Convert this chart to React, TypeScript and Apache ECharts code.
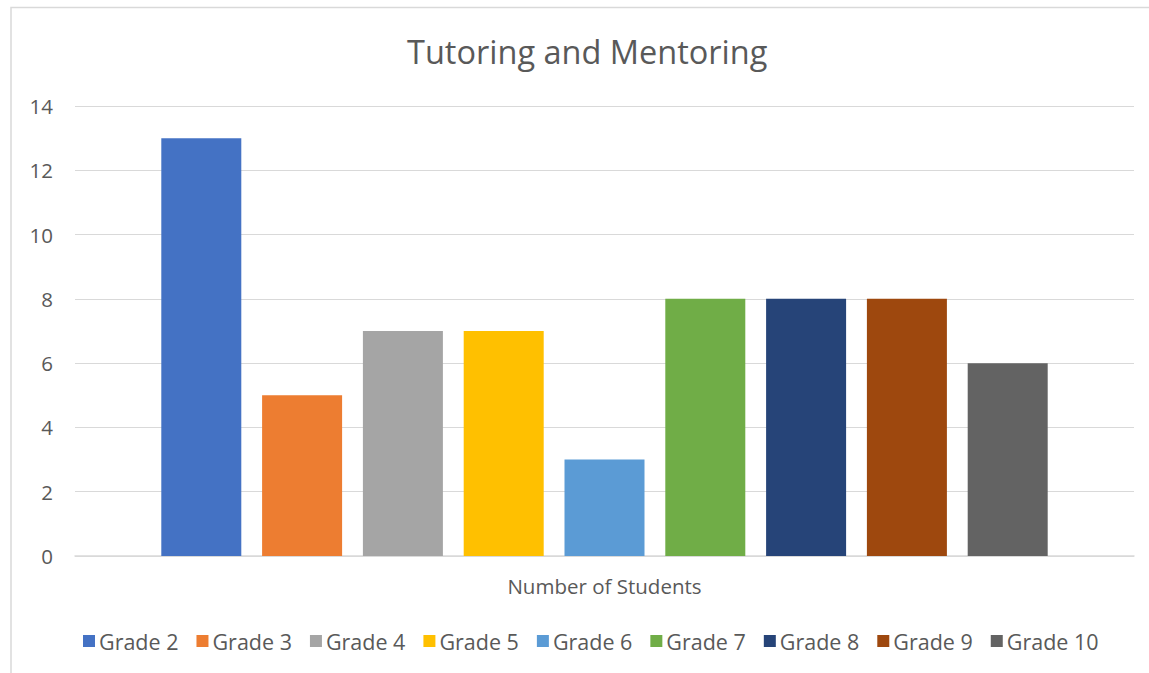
import React, { useEffect, useRef } from "react";
import * as echarts from "echarts";

const titleText = "Tutoring and Mentoring";
const categories = ["Number of Students"];
const seriesNames = ["Grade 2", "Grade 3", "Grade 4", "Grade 5", "Grade 6", "Grade 7", "Grade 8", "Grade 9", "Grade 10"];
const seriesValues = [13, 5, 7, 7, 3, 8, 8, 8, 6];
const seriesColors = ["#4472C4", "#ED7D31", "#A5A5A5", "#FFC000", "#5B9BD5", "#70AD47", "#264478", "#9E480E", "#636363"];

const FONT = "'Open Sans', sans-serif";
const TEXT = "#595959";

export default function App() {
  const ref = useRef<HTMLDivElement>(null);
  useEffect(() => {
    document.body.style.margin = "0";
    const chart = echarts.init(ref.current!, null, { renderer: "svg" });
    chart.setOption({
      animation: false,
      backgroundColor: "#ffffff",
      textStyle: { fontFamily: FONT, color: TEXT },
      title: {
        text: titleText,
        left: 402,
        top: 30,
        textStyle: { fontFamily: FONT, fontSize: 32.5, fontWeight: "normal", color: TEXT },
      },
      graphic: [
        {
          type: "rect",
          shape: { x: 11, y: 7.5, width: 1300, height: 800 },
          style: { fill: "none", stroke: "#d9d9d9", lineWidth: 1.5 },
          silent: true,
        },
      ],
      legend: {
        data: seriesNames,
        bottom: 16,
        left: 78,
        itemWidth: 12,
        itemHeight: 12,
        itemGap: 18,
        icon: "rect",
        textStyle: { fontFamily: FONT, fontSize: 21.5, color: TEXT, padding: [0, 0, 0, -1] },
      },
      grid: { left: 75, right: 15, top: 106, bottom: 117, containLabel: false },
      xAxis: {
        type: "category",
        data: categories,
        axisTick: { show: false },
        axisLine: { lineStyle: { color: "#d9d9d9", width: 1.5 } },
        axisLabel: { fontFamily: FONT, fontSize: 20.5, color: TEXT, margin: 19 },
      },
      yAxis: {
        type: "value",
        min: 0,
        max: 14,
        interval: 2,
        axisLine: { show: false },
        axisTick: { show: false },
        splitLine: { lineStyle: { color: "#d9d9d9", width: 1 } },
        axisLabel: { fontFamily: FONT, fontSize: 20.5, color: TEXT, margin: 22 },
      },
      series: seriesNames.map((name, i) => ({
        name,
        type: "bar",
        barWidth: 80,
        barGap: "26%",
        itemStyle: { color: seriesColors[i] },
        data: [seriesValues[i]],
      })),
    });
    return () => chart.dispose();
  }, []);
  return <div ref={ref} style={{ position: "fixed", left: 0, top: 0, width: 1149, height: 673 }} />;
}
